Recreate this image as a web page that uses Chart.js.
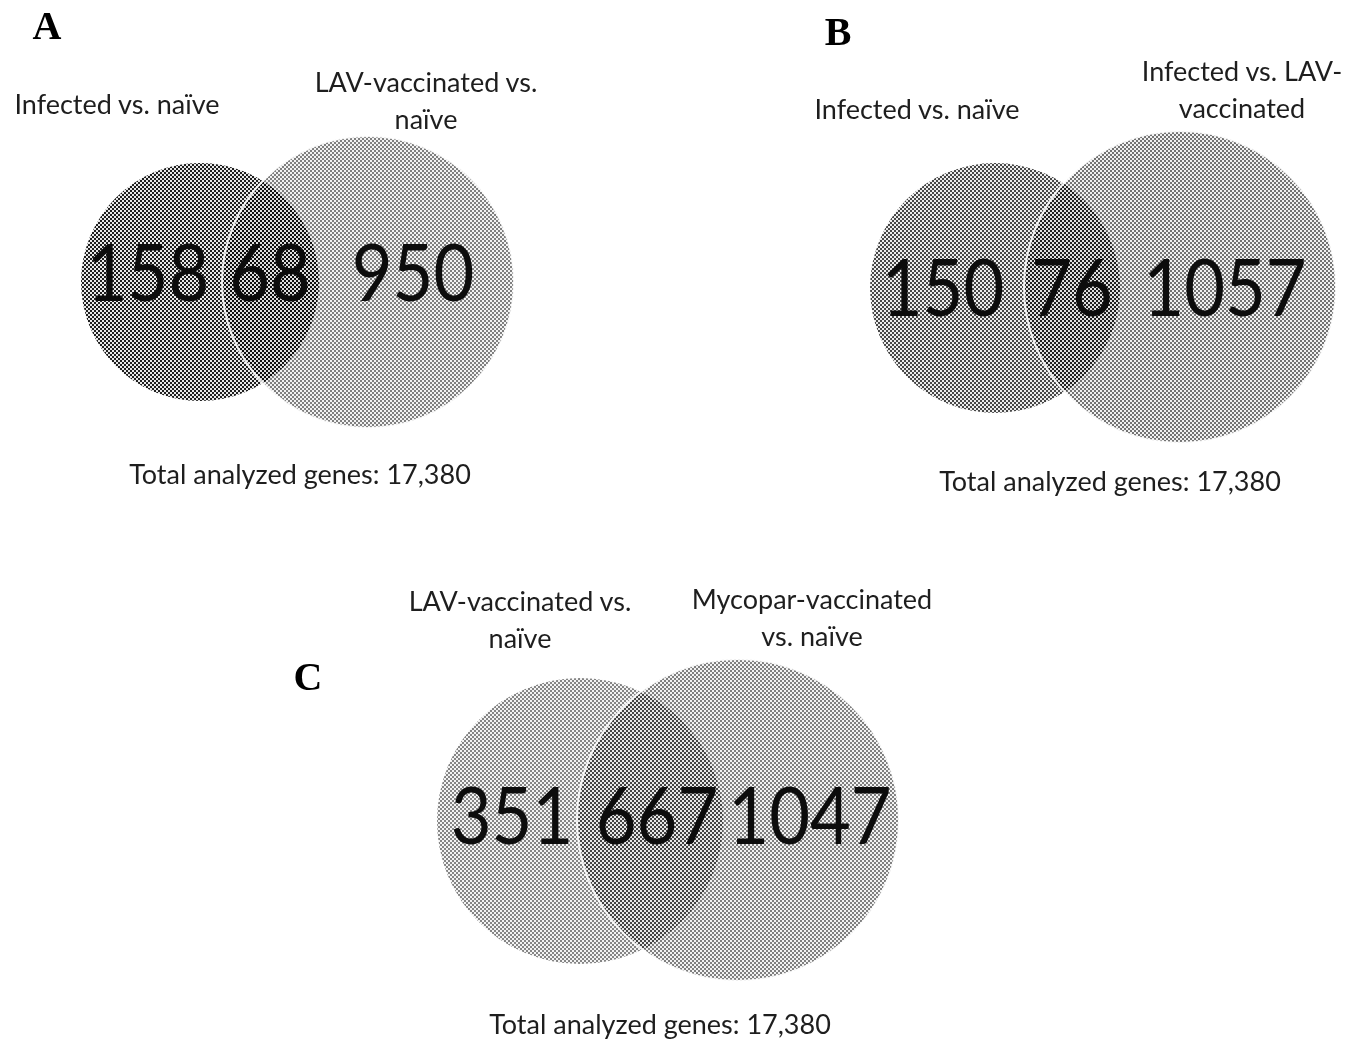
<!DOCTYPE html>
<html>
<head>
<meta charset="utf-8">
<script src="https://cdn.jsdelivr.net/npm/chart.js@4"></script>
<style>
  html, body { margin: 0; padding: 0; background: #fff; }
  #wrap { position: relative; width: 1355px; height: 1045px; overflow: hidden; }
  #venn { position: absolute; left: 0; top: 0; }
  .txt { position: absolute; white-space: nowrap; transform: translate(-50%, -50%); font-family: Lato, "Open Sans", sans-serif; color: #1e1e1e; line-height: 1; }
  .lbl { font-size: 27px; }
  .num { font-size: 80px; color: #0c0c0c; transform: translate(-50%, -50%) scaleX(0.88); }
  .letter { font-family: "Liberation Serif", "DejaVu Serif", serif; font-weight: bold; font-size: 40px; color: #000; }
</style>
</head>
<body>
<div id="wrap">
  <canvas id="venn" width="1355" height="1045"></canvas>
</div>
<script>
// Venn counts per panel
const panelNames = ['A', 'B', 'C'];
const leftSetNames = [['Infected vs. naïve'], ['Infected vs. naïve'], ['LAV-vaccinated vs.', 'naïve']];
const rightSetNames = [['LAV-vaccinated vs.', 'naïve'], ['Infected vs. LAV-', 'vaccinated'], ['Mycopar-vaccinated', 'vs. naïve']];
const onlyLeft = [158, 150, 351];
const shared = [68, 76, 667];
const onlyRight = [950, 1057, 1047];
const totalGenes = [17380, 17380, 17380];

// Layout (page pixels, used as scale values)
const leftCircle = [{x: 200, y: 282, r: 119}, {x: 995, y: 288, r: 125}, {x: 580, y: 821, r: 143}];
const rightCircle = [{x: 368, y: 282, r: 146}, {x: 1180, y: 287, r: 156}, {x: 738, y: 820, r: 161}];
const numberX = [[148, 270, 413], [943, 1072, 1225], [512, 657, 810]];
const numberY = [270, 285, 813];
const letterPos = [{x: 47, y: 26}, {x: 838, y: 32}, {x: 308, y: 677}];
const leftLabelPos = [{x: 117, y: 103}, {x: 917, y: 108}, {x: 520, y: 600}];
const rightLabelPos = [{x: 426, y: 81}, {x: 1242, y: 70}, {x: 812, y: 598}];
const totalPos = [{x: 300, y: 473}, {x: 1110, y: 480}, {x: 660, y: 1023}];
const lineGap = 37;

// Halftone checker fill
function halftone(alpha, cell) {
    const c = document.createElement('canvas');
    c.width = cell * 2;
    c.height = cell * 2;
    const g = c.getContext('2d');
    g.fillStyle = 'rgba(0,0,0,' + alpha + ')';
    g.fillRect(0, 0, cell, cell);
    g.fillRect(cell, cell, cell, cell);
    g.fillStyle = 'rgba(0,0,0,' + (alpha * 0.1) + ')';
    g.fillRect(cell, 0, cell, cell);
    g.fillRect(0, cell, cell, cell);
    return g.createPattern(c, 'repeat');
}

const leftFill = [halftone(0.88, 2), halftone(0.72, 2), halftone(0.48, 2)];
const rightFill = [halftone(0.5, 2), halftone(0.55, 2), halftone(0.5, 2)];

const ctx = document.getElementById('venn');
const chart = new Chart(ctx, {
    type: 'bubble',
    data: {
        datasets: [{
            label: 'left set',
            data: leftCircle,
            backgroundColor: c => leftFill[c.dataIndex],
            borderWidth: 0,
            clip: false,
            order: 2
        }, {
            label: 'right set',
            data: rightCircle,
            backgroundColor: c => rightFill[c.dataIndex],
            borderColor: 'rgba(255,255,255,0.85)',
            borderWidth: 2,
            clip: false,
            order: 1
        }]
    },
    options: {
        responsive: false,
        animation: false,
        events: [],
        layout: { padding: 0, autoPadding: false },
        plugins: {
            legend: { display: false },
            tooltip: { enabled: false }
        },
        scales: {
            x: { type: 'linear', min: 0, max: 1355, display: false },
            y: { type: 'linear', min: 0, max: 1045, reverse: true, display: false }
        }
    }
});

// Text overlay placed through the chart scales
function addText(cls, text, x, y) {
    const el = document.createElement('div');
    el.className = 'txt ' + cls;
    el.textContent = text;
    el.style.left = chart.scales.x.getPixelForValue(x) + 'px';
    el.style.top = chart.scales.y.getPixelForValue(y) + 'px';
    document.getElementById('wrap').appendChild(el);
}

panelNames.forEach((name, i) => {
    addText('letter', name, letterPos[i].x, letterPos[i].y);
    leftSetNames[i].forEach((line, k) => addText('lbl', line, leftLabelPos[i].x, leftLabelPos[i].y + k * lineGap));
    rightSetNames[i].forEach((line, k) => addText('lbl', line, rightLabelPos[i].x, rightLabelPos[i].y + k * lineGap));
    const counts = [onlyLeft[i], shared[i], onlyRight[i]];
    counts.forEach((v, k) => addText('num', String(v), numberX[i][k], numberY[i]));
    addText('lbl', 'Total analyzed genes: ' + totalGenes[i].toLocaleString('en-US'), totalPos[i].x, totalPos[i].y);
});
</script>
</body>
</html>
